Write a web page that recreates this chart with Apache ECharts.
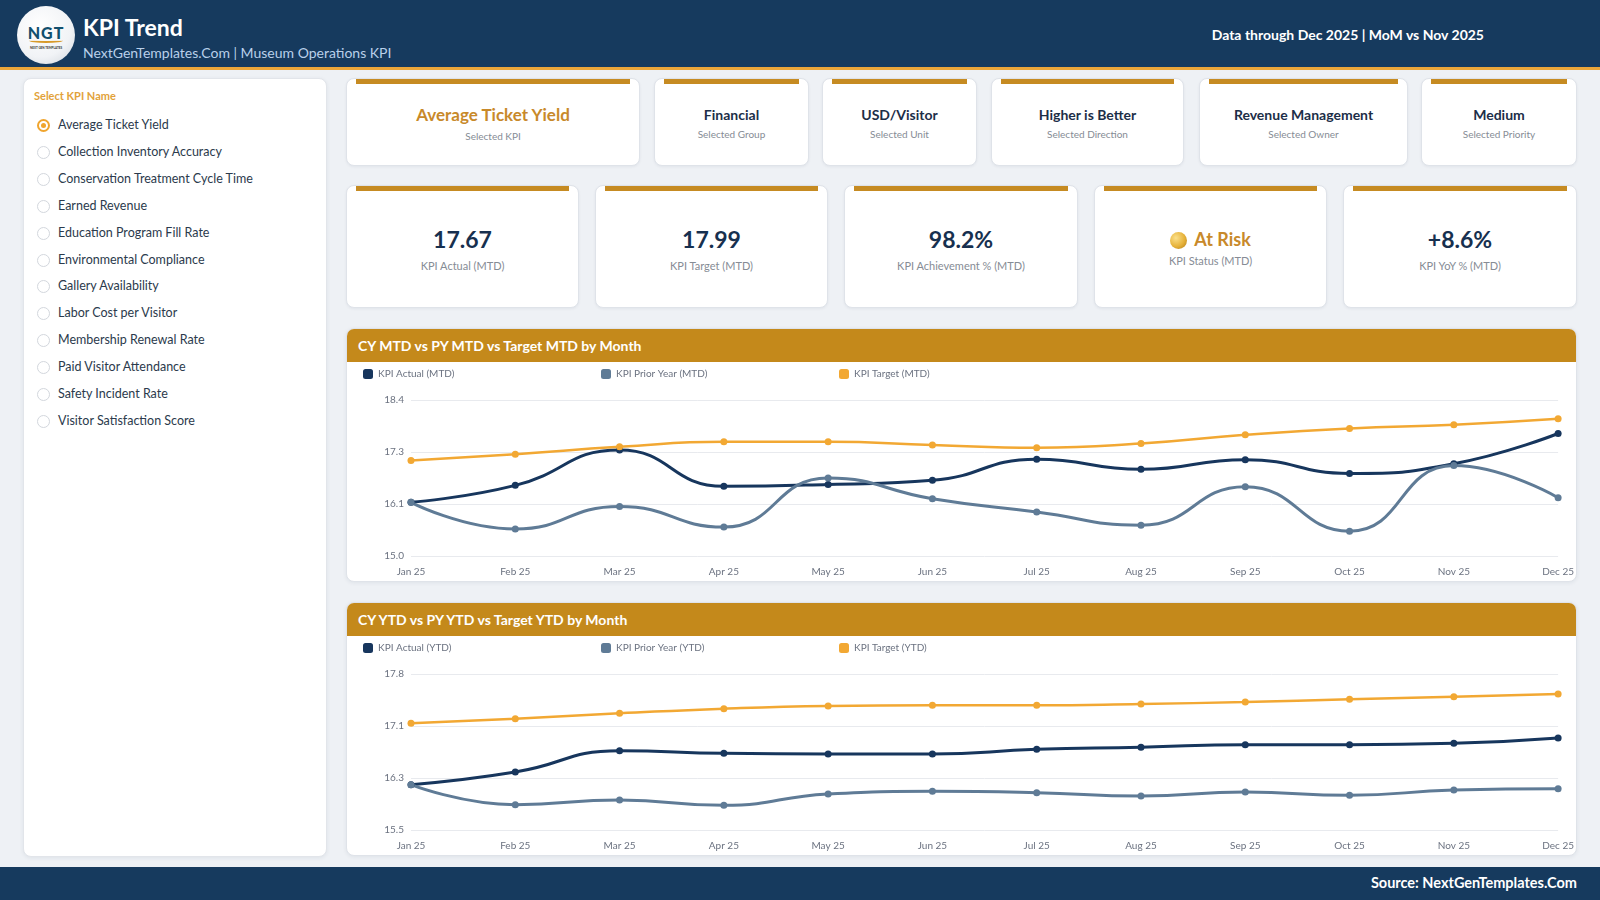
<!DOCTYPE html>
<html>
<head>
<meta charset="utf-8">
<title>KPI Trend</title>
<script src="https://cdn.jsdelivr.net/npm/echarts@6/dist/echarts.min.js"></script>
<style>
  * { box-sizing: border-box; }
  body {
    margin: 0; width: 1600px; height: 900px; overflow: hidden; position: relative;
    background: #eef1f5; font-family: Lato, "Noto Sans", sans-serif; color: #1c2e48;
  }
  .abs { position: absolute; }
  .header { left: 0; top: 0; width: 1600px; height: 70px; background: #163a5e; border-bottom: 3px solid #eba63a; }
  .logo {
    left: 17px; top: 6px; width: 58px; height: 58px; border-radius: 50%;
    background: radial-gradient(circle at 40% 35%, #ffffff 0%, #f1f3f6 60%, #cfd5dc 100%);
    text-align: center;
  }
  .logo .ngt { position: absolute; left: 0; right: 0; top: 17px; font: 900 16px Lato, sans-serif; color: #12506e; letter-spacing: 1px; }
  .logo .swoosh { position: absolute; left: 12px; top: 32px; width: 34px; height: 5px; border-bottom: 2px solid #d89a2a; border-radius: 0 0 50% 50%; }
  .logo .tiny { position: absolute; left: 0; right: 0; top: 40px; font: 700 3px Lato, sans-serif; color: #333; }
  .title { left: 83px; top: 12px; font-size: 23px; font-weight: 700; color: #fff; line-height: 30px; }
  .subtitle { left: 83px; top: 44px; font-size: 14px; color: #b9d0ea; line-height: 18px; }
  .through { right: 116px; top: 26px; font-size: 14px; font-weight: 700; color: #fff; line-height: 18px; }
  .footer { left: 0; top: 867px; width: 1600px; height: 33px; background: #163a5e; }
  .footer span { position: absolute; right: 23px; top: 7px; font-size: 14.5px; font-weight: 700; color: #fff; line-height: 18px; }

  .panel { left: 23px; top: 78px; width: 304px; height: 779px; background: #fff; border: 1px solid #e2e5ea; border-radius: 8px; box-shadow: 0 1px 4px rgba(20,40,70,0.07); }
  .panel .cap { position: absolute; left: 10px; top: 10px; font-size: 11px; font-weight: 700; color: #e2a23a; line-height: 14px; }
  .opt { position: absolute; left: 0; height: 18px; line-height: 18px; font-size: 12.5px; color: #2b3a4c; }
  .opt i { position: absolute; left: 13px; top: 3px; width: 13px; height: 13px; border-radius: 50%; border: 1.5px solid #d3d7dd; background: #fff; }
  .opt.on i { border: 2px solid #f0a52e; }
  .opt.on i::after { content: ""; position: absolute; left: 2px; top: 2px; width: 5px; height: 5px; border-radius: 50%; background: #f0a52e; }
  .opt span { position: absolute; left: 34px; white-space: nowrap; }

  .card { background: #fff; border: 1px solid #dfe3e9; border-radius: 8px; box-shadow: 0 1px 3px rgba(20,40,70,0.06); text-align: center; }
  .card .bar { position: absolute; left: 9px; right: 9px; top: 0; height: 5px; background: #c68b22; }
  .card .big { position: absolute; left: 0; right: 0; white-space: nowrap; font-weight: 700; }
  .card .small { position: absolute; left: 0; right: 0; white-space: nowrap; color: #868c95; }
  .r1 { top: 78px; height: 88px; }
  .r1 .big { top: 26px; font-size: 14px; line-height: 20px; color: #1c2e48; }
  .r1 .small { top: 49px; font-size: 10px; line-height: 12px; }
  .r1 .big.sel { top: 24px; font-size: 17px; line-height: 24px; color: #c8892a; }
  .r2 { top: 185px; height: 123px; }
  .r2 .big { top: 38px; font-size: 23px; line-height: 30px; color: #17304f; }
  .r2 .small { top: 73px; font-size: 11px; line-height: 14px; }
  .r2 .big.risk { color: #c8892a; font-size: 18px; top: 38px; }
  .risk b { display: inline-block; width: 17px; height: 17px; border-radius: 50%; vertical-align: -3px; margin-right: 7px;
    background: radial-gradient(circle at 35% 35%, #fbe08a 0%, #e6b23a 55%, #b07a14 100%); }

  .chartcard { left: 346px; width: 1231px; height: 254px; background: #fff; border: 1px solid #dfe3e9; border-radius: 8px; box-shadow: 0 1px 4px rgba(20,40,70,0.07); overflow: hidden; }
  .chartcard .head { position: absolute; left: 0; top: 0; right: 0; height: 33px; background: #c4891b; }
  .chartcard .head span { position: absolute; left: 11px; top: 8px; font-size: 14px; font-weight: 700; color: #fff; line-height: 18px; }
  .plot { left: 346px; width: 1231px; height: 220px; }
</style>
</head>
<body>
<div class="abs header"></div>
<div class="abs logo"><div class="ngt">NGT</div><div class="swoosh"></div><div class="tiny">NEXT GEN TEMPLATES</div></div>
<div class="abs title">KPI Trend</div>
<div class="abs subtitle">NextGenTemplates.Com | Museum Operations KPI</div>
<div class="abs through">Data through Dec 2025 | MoM vs Nov 2025</div>

<div class="abs panel" id="panel"><div class="cap">Select KPI Name</div></div>

<div class="abs card r1" style="left:346px;width:294px"><div class="bar"></div><div class="big sel">Average Ticket Yield</div><div class="small" style="top:51px">Selected KPI</div></div>
<div class="abs card r1" style="left:654px;width:155px"><div class="bar"></div><div class="big">Financial</div><div class="small">Selected Group</div></div>
<div class="abs card r1" style="left:822px;width:155px"><div class="bar"></div><div class="big">USD/Visitor</div><div class="small">Selected Unit</div></div>
<div class="abs card r1" style="left:991px;width:193px"><div class="bar"></div><div class="big">Higher is Better</div><div class="small">Selected Direction</div></div>
<div class="abs card r1" style="left:1199px;width:209px"><div class="bar"></div><div class="big">Revenue Management</div><div class="small">Selected Owner</div></div>
<div class="abs card r1" style="left:1421px;width:156px"><div class="bar"></div><div class="big">Medium</div><div class="small">Selected Priority</div></div>

<div class="abs card r2" style="left:346px;width:233px"><div class="bar"></div><div class="big">17.67</div><div class="small">KPI Actual (MTD)</div></div>
<div class="abs card r2" style="left:595px;width:233px"><div class="bar"></div><div class="big">17.99</div><div class="small">KPI Target (MTD)</div></div>
<div class="abs card r2" style="left:844px;width:234px"><div class="bar"></div><div class="big">98.2%</div><div class="small">KPI Achievement % (MTD)</div></div>
<div class="abs card r2" style="left:1094px;width:233px"><div class="bar"></div><div class="big risk"><b></b>At Risk</div><div class="small" style="top:68px">KPI Status (MTD)</div></div>
<div class="abs card r2" style="left:1343px;width:234px"><div class="bar"></div><div class="big">+8.6%</div><div class="small">KPI YoY % (MTD)</div></div>

<div class="abs chartcard" style="top:328px"><div class="head"><span>CY MTD vs PY MTD vs Target MTD by Month</span></div></div>
<div class="abs plot" id="mtd" style="top:362px"></div>
<div class="abs chartcard" style="top:602px"><div class="head"><span>CY YTD vs PY YTD vs Target YTD by Month</span></div></div>
<div class="abs plot" id="ytd" style="top:636px"></div>

<div class="abs footer"><span>Source: NextGenTemplates.Com</span></div>

<script>
// KPI selector list
var kpiNames = ['Average Ticket Yield', 'Collection Inventory Accuracy', 'Conservation Treatment Cycle Time',
  'Earned Revenue', 'Education Program Fill Rate', 'Environmental Compliance', 'Gallery Availability',
  'Labor Cost per Visitor', 'Membership Renewal Rate', 'Paid Visitor Attendance', 'Safety Incident Rate',
  'Visitor Satisfaction Score'];
var selectedKpi = 'Average Ticket Yield';

var months = ['Jan 25', 'Feb 25', 'Mar 25', 'Apr 25', 'May 25', 'Jun 25', 'Jul 25', 'Aug 25', 'Sep 25', 'Oct 25', 'Nov 25', 'Dec 25'];

// month to date
var mtdActual = [16.17, 16.54, 17.31, 16.52, 16.56, 16.65, 17.11, 16.89, 17.10, 16.80, 17.01, 17.67];
var mtdPrior  = [16.17, 15.59, 16.08, 15.63, 16.70, 16.25, 15.96, 15.67, 16.51, 15.54, 16.97, 16.27];
var mtdTarget = [17.08, 17.22, 17.38, 17.49, 17.49, 17.42, 17.36, 17.45, 17.64, 17.78, 17.86, 17.99];

// year to date
var ytdActual = [16.18, 16.37, 16.69, 16.65, 16.64, 16.64, 16.71, 16.74, 16.78, 16.78, 16.80, 16.88];
var ytdPrior  = [16.18, 15.88, 15.95, 15.87, 16.04, 16.08, 16.06, 16.01, 16.07, 16.02, 16.10, 16.12];
var ytdTarget = [17.10, 17.17, 17.25, 17.32, 17.36, 17.37, 17.37, 17.39, 17.42, 17.46, 17.50, 17.54];

// value axis ranges [min, max, interval]
var mtdAxis = [15.0, 18.4, 3.4 / 3];
var ytdAxis = [15.5, 17.84, 0.78];

var panel = document.getElementById('panel');
kpiNames.forEach(function (name, i) {
  var el = document.createElement('div');
  el.className = 'opt' + (name === selectedKpi ? ' on' : '');
  el.style.top = (37 + i * 26.9) + 'px';
  el.innerHTML = '<i></i><span>' + name + '</span>';
  panel.appendChild(el);
});

var colors = { actual: '#17365d', prior: '#5f7b96', target: '#f2a833' };

function legendAt(left, name) {
  return {
    left: left, top: 2, data: [name],
    icon: 'roundRect', itemWidth: 10, itemHeight: 10, itemGap: 6,
    textStyle: { color: '#6b7280', fontSize: 10, fontFamily: 'Lato' }
  };
}

function lineSeries(name, data, color, width) {
  return {
    name: name, type: 'line', data: data, smooth: true,
    symbol: 'circle', symbolSize: 7, showSymbol: true,
    itemStyle: { color: color },
    lineStyle: { color: color, width: width }
  };
}

function buildOption(tag, actual, prior, target, axis) {
  var names = ['KPI Actual (' + tag + ')', 'KPI Prior Year (' + tag + ')', 'KPI Target (' + tag + ')'];
  return {
    animation: false,
    legend: [legendAt(12, names[0]), legendAt(250, names[1]), legendAt(488, names[2])],
    grid: { left: 65, right: 10, top: 38, bottom: 26 },
    xAxis: {
      type: 'category', data: months, boundaryGap: false,
      axisLine: { show: false }, axisTick: { show: false },
      axisLabel: { color: '#6b7280', fontSize: 10, fontFamily: 'Lato', margin: 11 }
    },
    yAxis: {
      type: 'value', min: axis[0], max: axis[1], interval: axis[2],
      axisLine: { show: false }, axisTick: { show: false },
      axisLabel: {
        color: '#6b7280', fontSize: 10, fontFamily: 'Lato', margin: 7,
        formatter: function (v) { return v.toFixed(1); }
      },
      splitLine: { lineStyle: { color: '#e8eaee', width: 1 } }
    },
    series: [
      lineSeries(names[0], actual, colors.actual, 3),
      lineSeries(names[1], prior, colors.prior, 3),
      lineSeries(names[2], target, colors.target, 2.5)
    ]
  };
}

var mtdChart = echarts.init(document.getElementById('mtd'));
mtdChart.setOption(buildOption('MTD', mtdActual, mtdPrior, mtdTarget, mtdAxis));

var ytdChart = echarts.init(document.getElementById('ytd'));
ytdChart.setOption(buildOption('YTD', ytdActual, ytdPrior, ytdTarget, ytdAxis));
</script>
</body>
</html>
